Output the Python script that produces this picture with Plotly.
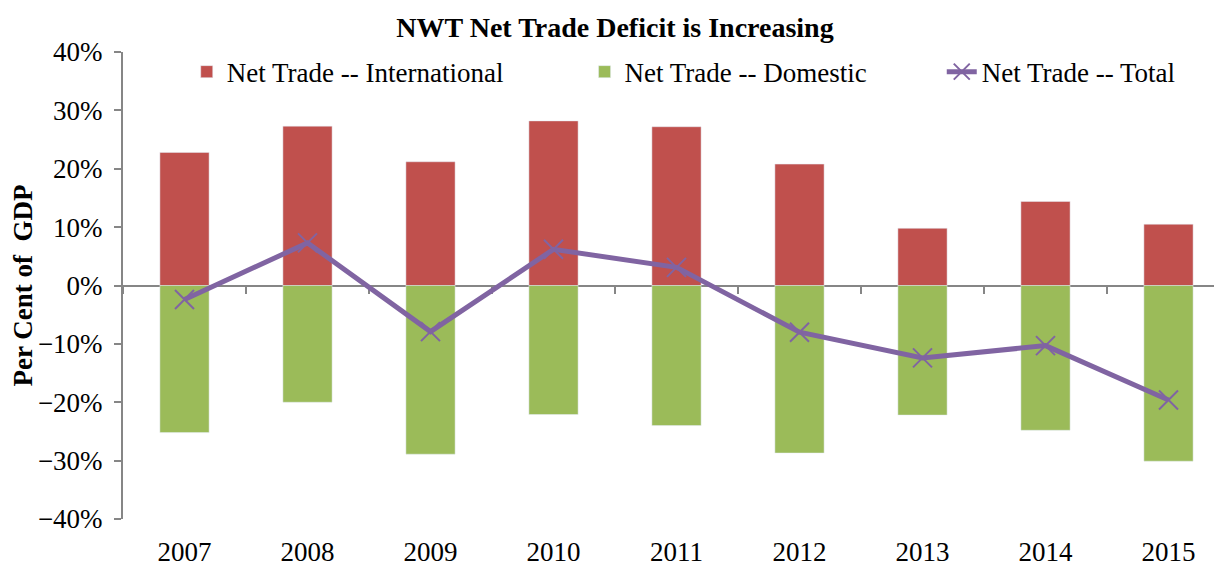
import plotly.graph_objects as go

# values, per cent of GDP
years = ["2007", "2008", "2009", "2010", "2011", "2012", "2013", "2014", "2015"]
international = [22.8, 27.3, 21.2, 28.2, 27.2, 20.8, 9.8, 14.4, 10.5]
domestic = [-25.2, -20.0, -28.9, -22.1, -24.0, -28.7, -22.2, -24.8, -30.1]
total = [-2.4, 7.3, -7.9, 6.2, 3.1, -8.0, -12.4, -10.3, -19.6]

RED = "#C0504D"
GREEN = "#9BBB59"
PURPLE = "#8064A2"
AXIS = "#868686"
FONT = "Liberation Serif, serif"

intl_trace = go.Bar(
    x=years,
    y=[v / 100 for v in international],
    name="Net Trade -- International",
    marker=dict(color=RED),
    width=0.4,
    legend="legend",
    showlegend=True,
)
dom_trace = go.Bar(
    x=years,
    y=[v / 100 for v in domestic],
    name="Net Trade -- Domestic",
    marker=dict(color=GREEN),
    width=0.4,
    legend="legend2",
    showlegend=True,
)
total_trace = go.Scatter(
    x=years,
    y=[v / 100 for v in total],
    name="Net Trade -- Total",
    mode="lines+markers",
    line=dict(color=PURPLE, width=5),
    marker=dict(symbol="x-thin", size=19, line=dict(color=PURPLE, width=2)),
    xaxis="x2",
    legend="legend3",
    showlegend=True,
)


def legend_at(x):
    return dict(
        orientation="h",
        yanchor="middle",
        y=0.957,
        xanchor="left",
        x=x,
        font=dict(family=FONT, size=27, color="black"),
        bgcolor="rgba(0,0,0,0)",
    )


# the page puts the plot 8px in from the window corner, so the figure is
# 8px smaller and the margins are shifted to keep the reference layout
fig = go.Figure(data=[intl_trace, dom_trace, total_trace])
fig.update_layout(
    width=1214,
    height=561,
    margin=dict(l=115, r=0, t=44, b=50),
    plot_bgcolor="white",
    paper_bgcolor="white",
    barmode="relative",
    showlegend=True,
    font=dict(family=FONT, size=27, color="black"),
    title=dict(
        text="<b>NWT Net Trade Deficit is Increasing</b>",
        x=0.5,
        xanchor="center",
        y=0.966,
        yanchor="middle",
        font=dict(family=FONT, size=28, color="black"),
    ),
    legend=legend_at(0.058),
    legend2=legend_at(0.42),
    legend3=legend_at(0.745),
    xaxis=dict(
        type="category",
        range=[-0.5, 8.435],
        showline=False,
        ticks="",
        showgrid=False,
        ticklabelstandoff=14,
        tickfont=dict(family=FONT, size=27),
    ),
    xaxis2=dict(
        type="category",
        matches="x",
        overlaying="x",
        anchor="free",
        position=0.5,
        showline=True,
        linecolor=AXIS,
        linewidth=2,
        ticks="outside",
        tickson="boundaries",
        ticklen=7,
        tickwidth=2,
        tickcolor=AXIS,
        showticklabels=False,
        showgrid=False,
        layer="below traces",
    ),
    yaxis=dict(
        range=[-0.4, 0.4],
        dtick=0.1,
        tickformat=".0%",
        showgrid=False,
        zeroline=False,
        showline=True,
        linecolor=AXIS,
        linewidth=2,
        ticks="outside",
        ticklen=7,
        tickwidth=2,
        tickcolor=AXIS,
        ticklabelstandoff=6,
        tickfont=dict(family=FONT, size=27),
        title=dict(
            text="<b>Per Cent of\u00a0 GDP</b>",
            font=dict(family=FONT, size=27),
            standoff=2,
        ),
    ),
)

fig.write_html("out.html")
